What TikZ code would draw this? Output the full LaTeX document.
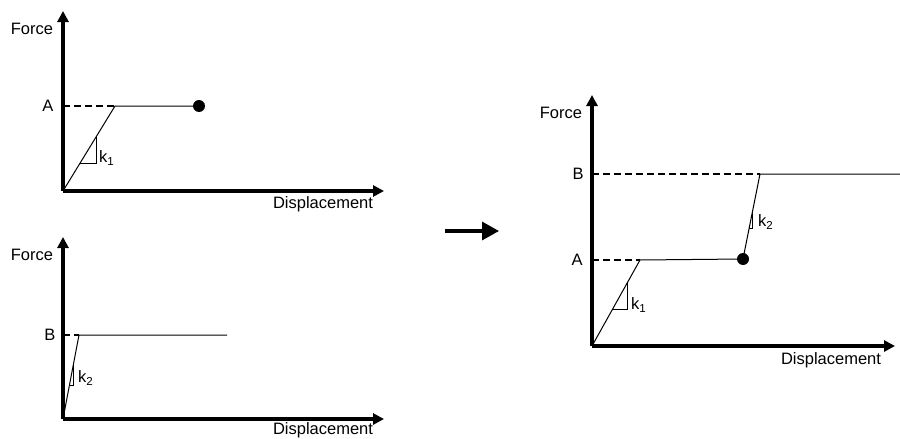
\documentclass[tikz,border=0pt]{standalone}
\usepackage{fontspec}
\setmainfont{Liberation Sans}
\usetikzlibrary{arrows.meta,calc}
\tikzset{
  axis/.style={line width=3.2pt,-{Triangle[length=11pt,width=11pt]}},
  curve/.style={line width=1pt},
  dashline/.style={line width=2pt,dash pattern=on 7pt off 4pt},
  tri/.style={line width=0.9pt},
  lbl/.style={font=\fontsize{16.5}{19}\selectfont,inner sep=0pt},
  dotmark/.style={circle,fill=black,minimum size=12pt,inner sep=0pt},
  bigarrow/.style={line width=3.2pt,-{Triangle[length=17pt,width=18pt]}}
}
\begin{document}
\begin{tikzpicture}[x=1pt,y=-1pt]
\useasboundingbox (0,0) rectangle (900,439);
% ---------- top-left plot ----------
\coordinate (o1) at (63,191);
\coordinate (y1) at (63,11);
\coordinate (x1) at (384,191);
\coordinate (a1) at (115,106);
\coordinate (a1y) at (63,106);
\node[dotmark] (d1) at (199,106) {};
\draw[dashline] (a1y) -- (a1);
\draw[curve] (o1) -- (a1) -- (d1.center);
\draw[tri] ($(o1)!0.33!(a1)$) -| ($(o1)!0.635!(a1)$);
\draw[axis] (o1) -- (y1);
\draw[axis] (o1) -- (x1);
\node[lbl] (f1) at (32,29) {Force};
\node[lbl] (la1) at (48,106) {A};
\node[lbl,anchor=west] (k1a) at (99,158) {k\textsubscript{1}};
\node[lbl] (dp1) at (323,204) {Displacement};
% ---------- bottom-left plot ----------
\coordinate (o2) at (63,419);
\coordinate (y2) at (63,237);
\coordinate (x2) at (384,419);
\coordinate (b2) at (79,335);
\coordinate (b2y) at (63,335);
\coordinate (e2) at (227,335);
\draw[dashline] (b2y) -- (b2);
\draw[curve] (o2) -- (b2) -- (e2);
\draw[tri] ($(o2)!0.40!(b2)$) -| ($(o2)!0.64!(b2)$);
\draw[axis] (o2) -- (y2);
\draw[axis] (o2) -- (x2);
\node[lbl] (f2) at (32,255) {Force};
\node[lbl] (lb2) at (50,335) {B};
\node[lbl,anchor=west] (k2a) at (78,378) {k\textsubscript{2}};
\node[lbl] (dp2) at (323,430) {Displacement};
% ---------- middle arrow ----------
\coordinate (m1) at (445,231);
\coordinate (m2) at (499,231);
\draw[bigarrow] (m1) -- (m2);
% ---------- right plot ----------
\coordinate (o3) at (592,346);
\coordinate (y3) at (592,95);
\coordinate (x3) at (895,346);
\coordinate (a3) at (640,260);
\coordinate (a3y) at (592,260);
\node[dotmark] (d3) at (743,259) {};
\coordinate (b3) at (760,174);
\coordinate (b3y) at (592,174);
\coordinate (e3) at (900,174);
\draw[dashline] (a3y) -- (a3);
\draw[dashline] (b3y) -- (b3);
\draw[curve] (o3) -- (a3) -- (d3.center) -- (b3) -- (e3);
\draw[tri] ($(o3)!0.42!(a3)$) -| ($(o3)!0.73!(a3)$);
\draw[tri] ($(d3.center)!0.36!(b3)$) -| ($(d3.center)!0.57!(b3)$);
\draw[axis] (o3) -- (y3);
\draw[axis] (o3) -- (x3);
\node[lbl] (f3) at (561,113) {Force};
\node[lbl] (lb3) at (578,174) {B};
\node[lbl] (la3) at (577,260) {A};
\node[lbl,anchor=west] (k1b) at (631,305) {k\textsubscript{1}};
\node[lbl,anchor=west] (k2b) at (758,222) {k\textsubscript{2}};
\node[lbl] (dp3) at (831,360) {Displacement};
\end{tikzpicture}
\end{document}
